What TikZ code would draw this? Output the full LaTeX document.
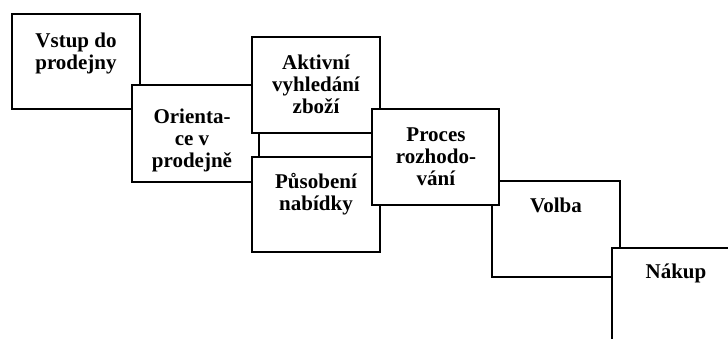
\documentclass[tikz,border=0pt]{standalone}
\usepackage{fontspec}
\setmainfont{Liberation Serif}
\begin{document}
\begin{tikzpicture}[x=1pt,y=-1pt,
  box/.style={draw=black,fill=white,line width=1.2pt,inner sep=0pt,outer sep=0pt,anchor=north west},
  lbl/.style={font=\fontsize{21}{22}\selectfont\bfseries,align=center,inner sep=0pt,anchor=base}]
\clip (0,0) rectangle (728,338);
\fill[white] (0,0) rectangle (728,338);
% boxes, drawn in stacking order
\node[box,minimum width=128pt,minimum height=95pt] (b1) at (12,14) {};
\node[fill=white,inner sep=0pt,outer sep=0pt,anchor=north west,minimum width=120pt,minimum height=97pt] (b2) at (132,85) {};
\draw[line width=1.2pt] (b2.north east) -- (b2.north west) -- (b2.south west) -- (b2.south east);
\node[box,minimum width=121pt,minimum height=24pt] (link) at (259,133) {};
\node[box,minimum width=128pt,minimum height=96pt] (b3) at (252,37) {};
\node[box,minimum width=128pt,minimum height=95pt] (b4) at (252,157) {};
\node[box,minimum width=128pt,minimum height=96pt] (b6) at (492,181) {};
\node[box,minimum width=127pt,minimum height=96pt] (b5) at (372,109) {};
\node[box,minimum width=128pt,minimum height=96pt] (b7) at (612,248) {};
% labels (base anchor = baseline of the last line)
\node[lbl] (t1) at (76,69) {Vstup do\\prodejny};
\node[lbl] (t2) at (192,167) {Orienta-\\ce v\\prodejně};
\node[lbl] (t3) at (316,113) {Aktivní\\vyhledání\\zboží};
\node[lbl] (t4) at (316,210) {Působení\\nabídky};
\node[lbl] (t5) at (436,185) {Proces\\rozhodo-\\vání};
\node[lbl] (t6) at (556,212) {Volba};
\node[lbl] (t7) at (676,278) {Nákup};
\end{tikzpicture}
\end{document}
